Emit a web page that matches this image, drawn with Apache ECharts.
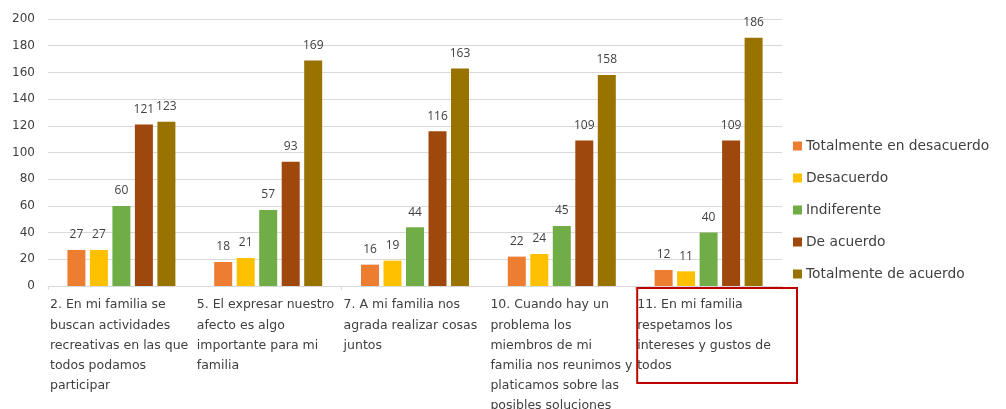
<!DOCTYPE html>
<html>
<head>
<meta charset="utf-8">
<script src="https://cdn.jsdelivr.net/npm/echarts@6/dist/echarts.min.js"></script>
<style>
html,body{margin:0;padding:0;background:#fff;}
#chart{width:1006px;height:409px;}
</style>
</head>
<body>
<div id="chart"></div>
<script>
const categories = [
  "2. En mi familia se\nbuscan actividades\nrecreativas en las que\ntodos podamos\nparticipar",
  "5. El expresar nuestro\nafecto es algo\nimportante para mi\nfamilia",
  "7. A mi familia nos\nagrada realizar cosas\njuntos",
  "10. Cuando hay un\nproblema los\nmiembros de mi\nfamilia nos reunimos y\nplaticamos sobre las\nposibles soluciones",
  "11. En mi familia\nrespetamos los\nintereses y gustos de\ntodos"
];
const seriesNames = ["Totalmente en desacuerdo", "Desacuerdo", "Indiferente", "De acuerdo", "Totalmente de acuerdo"];
const totalmenteDesacuerdo = [27, 18, 16, 22, 12];
const desacuerdo = [27, 21, 19, 24, 11];
const indiferente = [60, 57, 44, 45, 40];
const deAcuerdo = [121, 93, 116, 109, 109];
const totalmenteAcuerdo = [123, 169, 163, 158, 186];
const colors = ["#ED7D31", "#FFC000", "#70AD47", "#9E480E", "#997300"];

const values = [totalmenteDesacuerdo, desacuerdo, indiferente, deAcuerdo, totalmenteAcuerdo];
const font = "'DejaVu Sans', 'Open Sans', sans-serif";
const numFont = "'Open Sans', 'DejaVu Sans', sans-serif";

const chart = echarts.init(document.getElementById('chart'));
const option = {
  animation: false,
  textStyle: { fontFamily: font },
  grid: { left: 48, right: 224, top: 19, bottom: 123, containLabel: false, outerBoundsMode: 'none' },
  legend: {
    orient: 'vertical',
    left: 788,
    top: 134,
    itemWidth: 9,
    itemHeight: 9,
    itemGap: 18,
    icon: 'rect',
    textStyle: { fontSize: 13.8, color: '#404040', lineHeight: 14, fontFamily: font, padding: [0, 0, 0, -1] },
    data: seriesNames
  },
  xAxis: [
    {
      type: 'category',
      data: categories,
      axisLine: { lineStyle: { color: '#d9d9d9' } },
      axisTick: { show: true, length: 4, lineStyle: { color: '#d9d9d9' } },
      axisLabel: { show: false }
    },
    {
      type: 'category',
      boundaryGap: false,
      position: 'bottom',
      data: categories.concat(['']),
      axisLine: { show: false },
      axisTick: { show: false },
      axisLabel: {
        interval: 0,
        align: 'left',
        margin: 9,
        fontSize: 12.5,
        lineHeight: 20.2,
        color: '#404040',
        fontFamily: font,
        padding: [0, 0, 0, 2]
      }
    }
  ],
  yAxis: {
    type: 'value',
    min: 0,
    max: 200,
    interval: 20,
    axisLine: { show: false },
    axisTick: { show: false },
    axisLabel: { fontSize: 12, color: '#404040', margin: 13, fontFamily: font },
    splitLine: { lineStyle: { color: '#d9d9d9', width: 1 } }
  },
  series: seriesNames.map((name, i) => ({
    name: name,
    type: 'bar',
    xAxisIndex: 0,
    data: values[i],
    barWidth: 18,
    barGap: '25%',
    itemStyle: { color: colors[i] },
    label: {
      show: true,
      position: 'top',
      distance: 9,
      fontSize: 12,
      color: '#404040',
      fontFamily: numFont
    }
  }))
};
chart.setOption(option);

const x0 = chart.convertToPixel({ xAxisIndex: 1 }, 4);
const x1 = chart.convertToPixel({ xAxisIndex: 1 }, 5);
const yAxisBottom = chart.convertToPixel({ yAxisIndex: 0 }, 0);
chart.setOption({
  graphic: [{
    type: 'rect',
    shape: { x: x0 + 2, y: yAxisBottom + 2, width: (x1 - x0) + 13, height: 95 },
    style: { fill: 'none', stroke: '#C00000', lineWidth: 2 },
    z: 10
  }]
});
</script>
</body>
</html>
